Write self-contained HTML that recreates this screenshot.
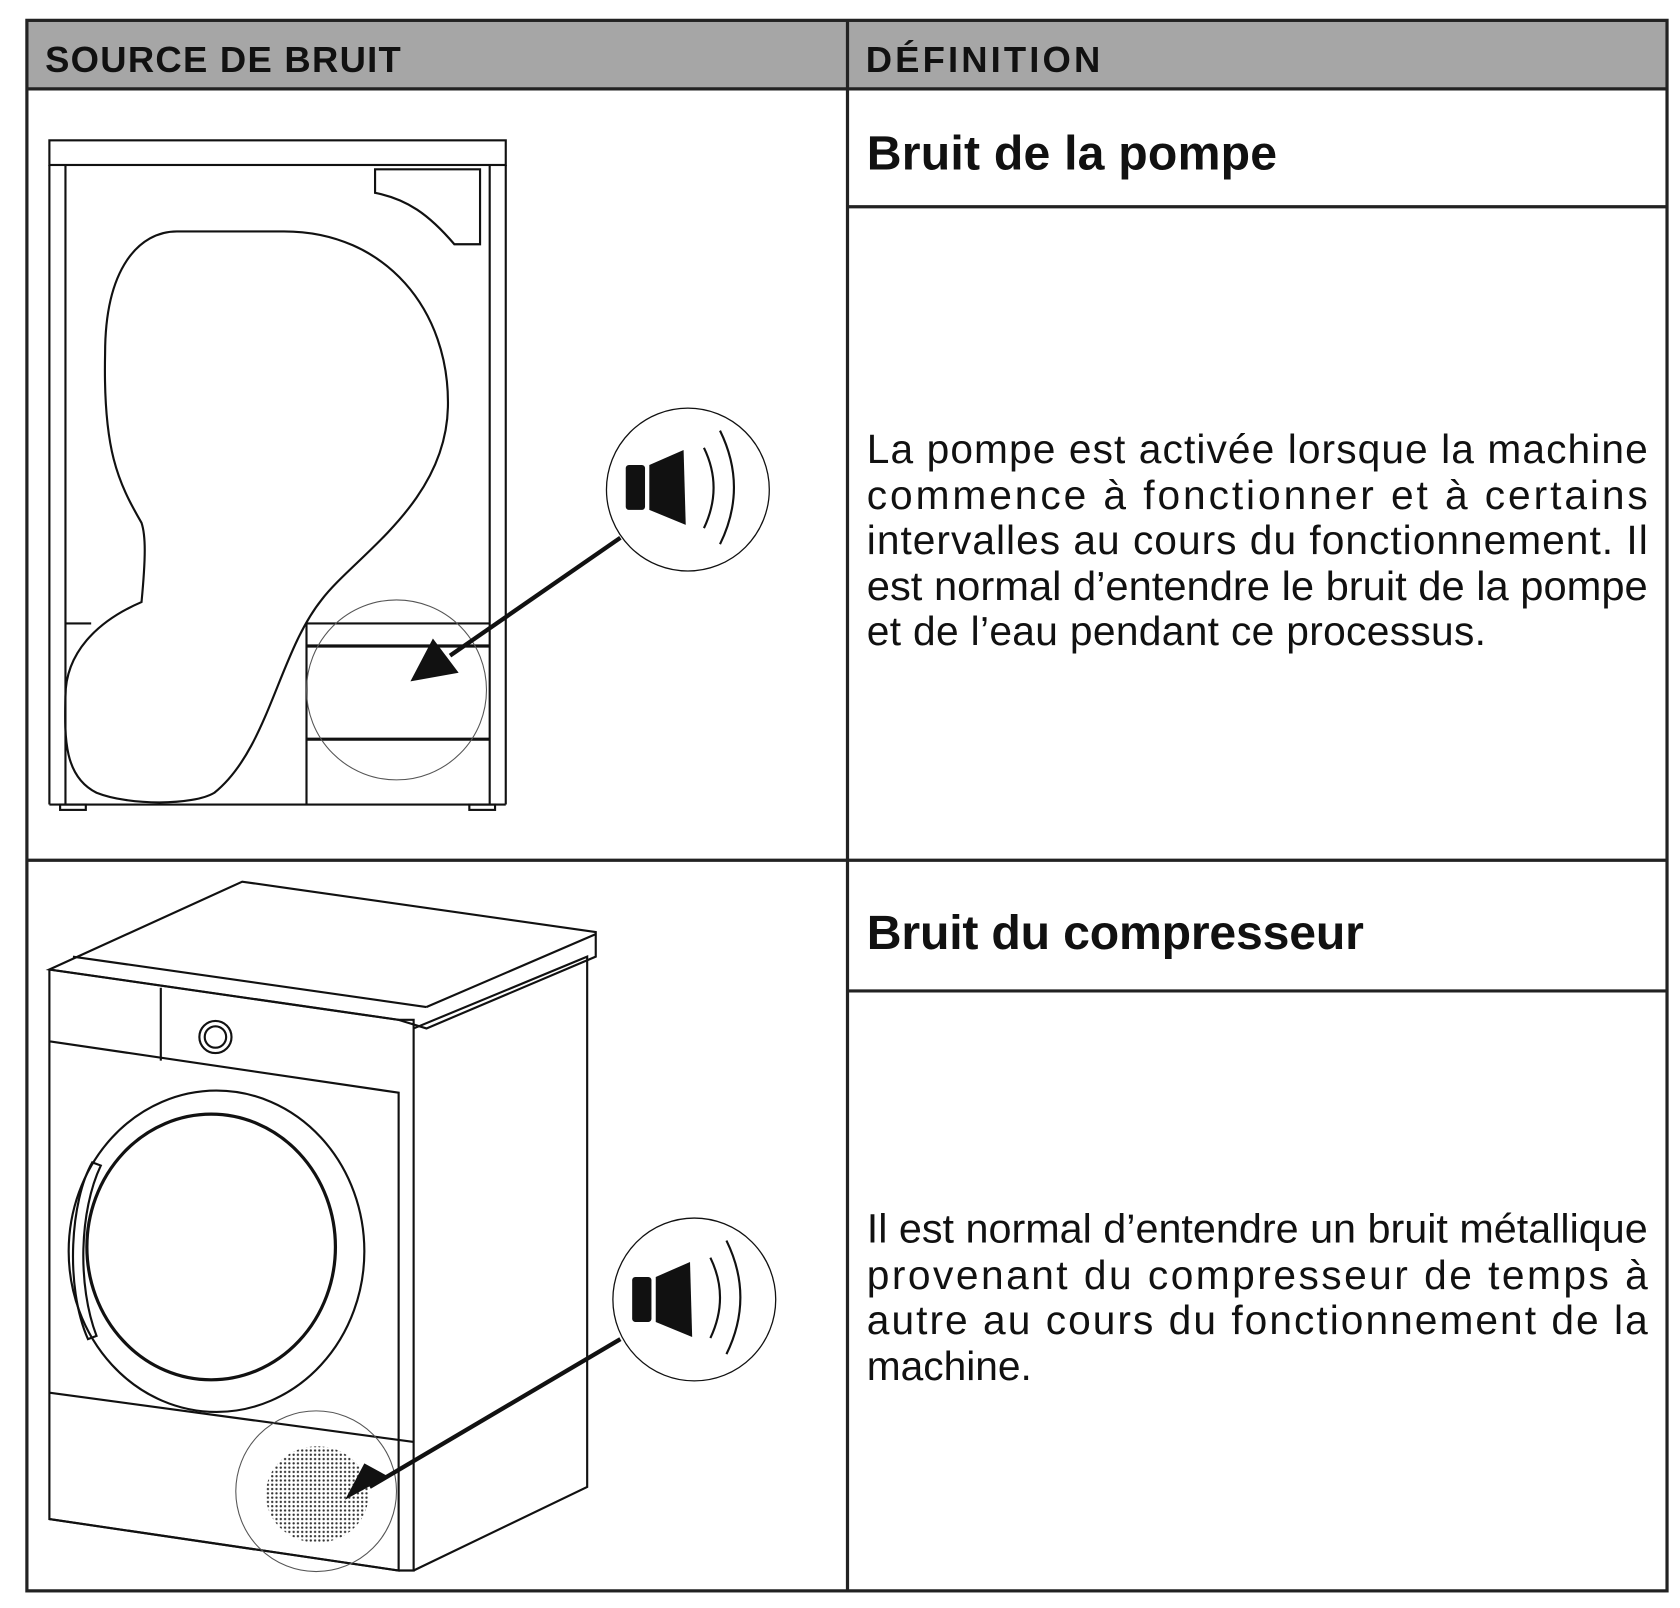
<!DOCTYPE html>
<html><head><meta charset="utf-8"><style>
html,body{margin:0;padding:0;background:#fff;}
svg{display:block}
text{font-family:"Liberation Sans",sans-serif;fill:#111;}
</style></head><body>
<svg width="1680" height="1608" viewBox="0 0 1568 1501" xmlns="http://www.w3.org/2000/svg">
<rect x="25" y="19" width="1531" height="64" fill="#a6a6a6"/>
<g stroke="#222" stroke-width="3" fill="none">
<rect x="25" y="19" width="1531" height="1466"/>
<line x1="25" y1="83" x2="1556" y2="83"/>
<line x1="791" y1="19" x2="791" y2="1485"/>
<line x1="25" y1="803" x2="1556" y2="803"/>
<line x1="791" y1="193" x2="1556" y2="193"/>
<line x1="791" y1="925" x2="1556" y2="925"/>
</g>
<text x="42" y="67" font-size="34" font-weight="bold" textLength="332">SOURCE DE BRUIT</text>
<text x="808" y="67" font-size="34" font-weight="bold" textLength="219">DÉFINITION</text>
<text x="809" y="158" font-size="45" font-weight="bold" textLength="383">Bruit de la pompe</text>
<text x="809" y="886" font-size="45" font-weight="bold" textLength="464">Bruit du compresseur</text>
<g font-size="38">
<text x="809" y="432" textLength="729" lengthAdjust="spacing">La pompe est activée lorsque la machine</text>
<text x="809" y="475" textLength="729" lengthAdjust="spacing">commence à fonctionner et à certains</text>
<text x="809" y="517" textLength="729" lengthAdjust="spacing">intervalles au cours du fonctionnement. Il</text>
<text x="809" y="560" textLength="729" lengthAdjust="spacingAndGlyphs">est normal d’entendre le bruit de la pompe</text>
<text x="809" y="602" textLength="578" lengthAdjust="spacing">et de l’eau pendant ce processus.</text>
<text x="809" y="1160" textLength="729" lengthAdjust="spacingAndGlyphs">Il est normal d’entendre un bruit métallique</text>
<text x="809" y="1203" textLength="729" lengthAdjust="spacing">provenant du compresseur de temps à</text>
<text x="809" y="1245" textLength="729" lengthAdjust="spacing">autre au cours du fonctionnement de la</text>
<text x="809" y="1288" textLength="154" lengthAdjust="spacing">machine.</text>
</g>
<!-- dryer 1 -->
<g stroke="#111" stroke-width="2" fill="none">
<rect x="46" y="131" width="426" height="23"/>
<line x1="46" y1="154" x2="46" y2="751"/><line x1="61" y1="154" x2="61" y2="751"/>
<line x1="472" y1="154" x2="472" y2="751"/><line x1="457" y1="154" x2="457" y2="751"/>
<line x1="46" y1="751" x2="472" y2="751"/>
<rect x="56" y="751" width="24" height="5"/><rect x="438" y="751" width="24" height="5"/>
<path d="M350 158 H448 V228 H424 C400 200 380 186 350 180 Z"/>
<path d="M165 216 H265 C360 216 420 290 418 380 C416 470 330 520 300 560 C260 610 250 700 200 740 C180 752 120 752 90 740 C60 725 60 690 61 650 C61 610 90 580 132 562 C136 520 136 500 132 488 C110 450 96 420 98 330 C98 250 130 216 165 216 Z"/>
<line x1="61" y1="582" x2="85" y2="582"/>
<line x1="286" y1="582" x2="457" y2="582"/>
<line x1="286" y1="582" x2="286" y2="751"/>
<line x1="286" y1="603" x2="457" y2="603" stroke-width="3"/>
<line x1="286" y1="690" x2="457" y2="690" stroke-width="3"/>
<circle cx="370" cy="644" r="84" stroke-width="1" stroke="#555"/>
<circle cx="642" cy="457" r="76" stroke-width="1.2"/>
<path d="M657 418 Q675 455 657 493" stroke-width="2"/>
<path d="M672 402 Q698 455 672 508" stroke-width="2"/>
<line x1="579" y1="502" x2="420" y2="612" stroke-width="4"/>
</g>
<rect x="584" y="434" width="18" height="42" rx="3" fill="#111"/>
<path d="M606 434 L638 420 L640 490 L606 476 Z" fill="#111"/>
<path d="M383 636 L428 628 L404 596 Z" fill="#111"/>
<!-- dryer 2 -->
<g stroke="#111" stroke-width="2" fill="none">
<path d="M46 905 L226 823 L556 870 L556 893 L398 960 L372 952 L46 905 Z"/>
<path d="M46 905 L46 1418 L372 1466 L372 1020 L46 972"/>
<path d="M372 952 L386 952 L386 1466 L372 1466"/>
<path d="M386 960 L548 893 L548 1388 L386 1466"/>
<line x1="68" y1="893" x2="398" y2="940"/>
<line x1="398" y1="940" x2="556" y2="872"/>
<line x1="46" y1="905" x2="372" y2="952"/>
<path d="M150 922 L150 990"/>
<circle cx="201" cy="968" r="15"/><circle cx="201" cy="968" r="10"/>
<ellipse cx="202" cy="1168" rx="138" ry="150"/>
<ellipse cx="197" cy="1164" rx="116" ry="124" stroke-width="3"/>
<path d="M86 1085 C66 1120 60 1200 82 1250 L90 1247 C72 1200 74 1130 94 1088 Z"/>
<line x1="46" y1="1300" x2="386" y2="1346"/>
<line x1="46" y1="1418" x2="372" y2="1466"/>
<circle cx="295" cy="1392" r="75" stroke-width="1" stroke="#555"/>
<circle cx="648" cy="1213" r="76" stroke-width="1.2"/>
<path d="M663 1174 Q681 1211 663 1249" stroke-width="2"/>
<path d="M678 1158 Q704 1211 678 1264" stroke-width="2"/>
<line x1="579" y1="1250" x2="345" y2="1388" stroke-width="4"/>
</g>
<defs><pattern id="dots" width="4" height="4" patternUnits="userSpaceOnUse"><circle cx="2" cy="2" r="1.1" fill="#333"/></pattern></defs>
<ellipse cx="296" cy="1395" rx="48" ry="45" fill="url(#dots)"/>
<rect x="590" y="1192" width="18" height="42" rx="3" fill="#111"/>
<path d="M612 1192 L644 1178 L646 1248 L612 1234 Z" fill="#111"/>
<path d="M322 1400 L362 1378 L340 1366 Z" fill="#111"/>
</svg>
</body></html>
